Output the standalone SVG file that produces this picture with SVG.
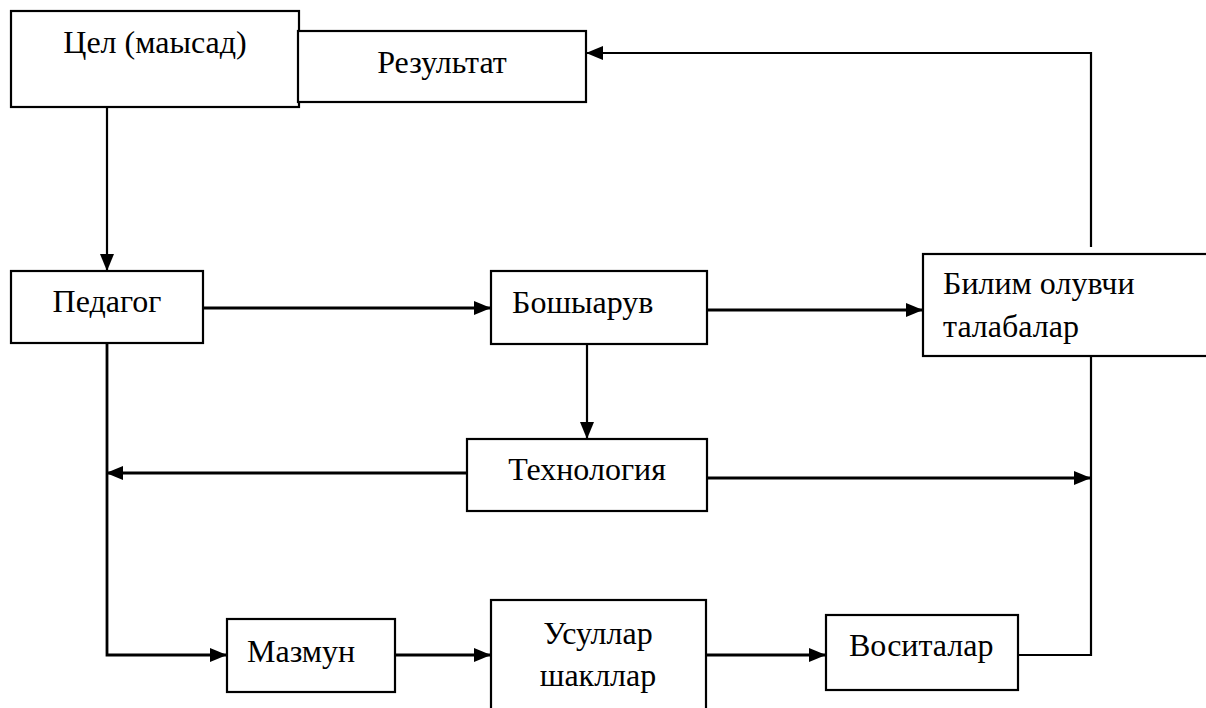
<svg xmlns="http://www.w3.org/2000/svg" width="1206" height="708" viewBox="0 0 1206 708">
<defs>
<marker id="ah" viewBox="0 0 17 14" refX="17" refY="7" markerWidth="17" markerHeight="14" markerUnits="userSpaceOnUse" orient="auto">
<path d="M0,0 L17,7 L0,14 Z" fill="#000"/>
</marker>
<style>
.box{fill:#fff;stroke:#000;stroke-width:2.2}
.t{font-family:'Liberation Serif','Times New Roman',serif;font-size:32px;fill:#000}
.m{text-anchor:middle}
.c{fill:none;stroke:#000;stroke-width:2.2}
.a{marker-end:url(#ah)}
.w{stroke-width:2.8}
</style>
</defs>
<rect width="1206" height="708" fill="#fff"/>
<g id="connectors">
<path class="c a" d="M1091,247 L1091,53 L586,53"/>
<path class="c a" d="M107,107 L107,271"/>
<path class="c a w" d="M203,308 L491,308"/>
<path class="c a w" d="M707,310 L923,310"/>
<path class="c a" d="M587,344 L587,439"/>
<path class="c a w" d="M467,473 L106,473"/>
<path class="c a w" d="M707,478 L1091,478"/>
<path class="c" d="M1091,343 L1091,655 L1018,655"/>
<path class="c a w" d="M107,343 L107,655 L227,655"/>
<path class="c a w" d="M395,655 L491,655"/>
<path class="c a w" d="M706,655 L826,655"/>
</g>
<g id="n-tsel">
<rect class="box" x="11" y="11" width="288" height="96"/>
<text class="t m" x="155" y="53">Цел (маысад)</text>
</g>
<g id="n-rezultat">
<rect class="box" x="298" y="31" width="288" height="71"/>
<text class="t m" x="442" y="73">Результат</text>
</g>
<g id="n-pedagog">
<rect class="box" x="11" y="271" width="192" height="72"/>
<text class="t m" x="107" y="312">Педагог</text>
</g>
<g id="n-boshyaruv">
<rect class="box" x="491" y="271" width="216" height="73"/>
<text class="t" x="512" y="313">Бошыарув</text>
</g>
<g id="n-bilim">
<rect class="box" x="923" y="254" width="290" height="102"/>
<text class="t" x="943" y="294">Билим олувчи</text>
<text class="t" x="943" y="337">талабалар</text>
</g>
<g id="n-texnologiya">
<rect class="box" x="467" y="439" width="240" height="72"/>
<text class="t m" x="587" y="480">Технология</text>
</g>
<g id="n-mazmun">
<rect class="box" x="227" y="619" width="168" height="73"/>
<text class="t" x="247" y="662">Мазмун</text>
</g>
<g id="n-usullar">
<rect class="box" x="491" y="600" width="215" height="115"/>
<text class="t m" x="598" y="644">Усуллар</text>
<text class="t m" x="598" y="686">шакллар</text>
</g>
<g id="n-vositalar">
<rect class="box" x="826" y="615" width="192" height="75"/>
<text class="t" x="849" y="656">Воситалар</text>
</g>
</svg>
